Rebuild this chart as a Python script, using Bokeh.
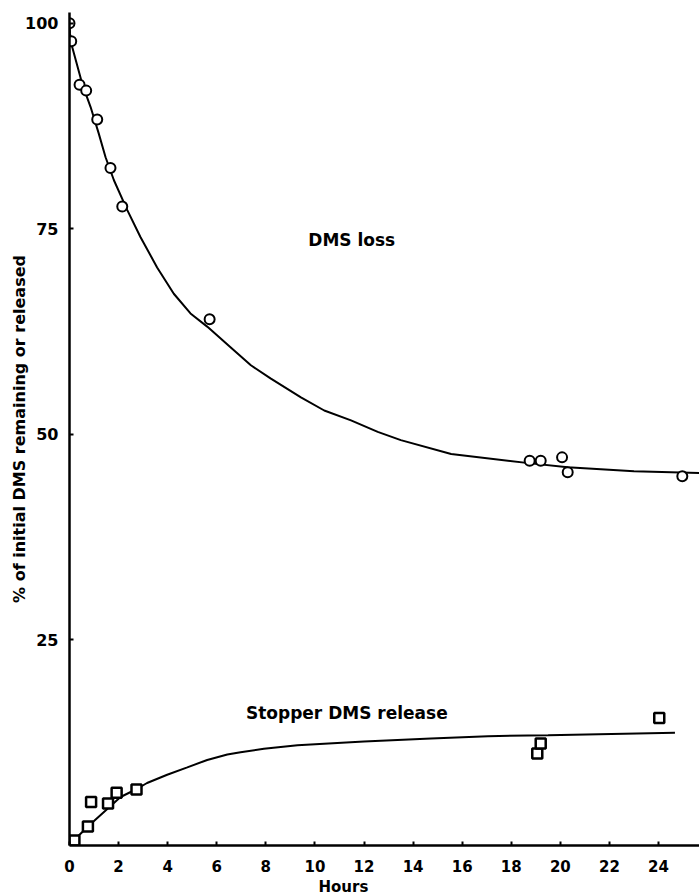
from bokeh.plotting import figure
from bokeh.models import Label, FixedTicker, Range1d, Title
from bokeh.embed import file_html
from bokeh.resources import INLINE

# DMS loss (circles)
loss_hours = [0.0, 0.07, 0.41, 0.68, 1.13, 1.67, 2.15, 5.71, 18.75, 19.2, 20.07, 20.3, 24.97]
loss_pct = [100.0, 97.8, 92.5, 91.8, 88.3, 82.4, 77.7, 64.0, 46.8, 46.8, 47.2, 45.4, 44.9]

# Stopper DMS release (squares)
rel_hours = [0.2, 0.75, 0.88, 1.57, 1.92, 2.73, 19.06, 19.2, 24.03]
rel_pct = [0.6, 2.3, 5.3, 5.1, 6.4, 6.8, 11.2, 12.4, 15.5]

# fitted curves as drawn in the figure
loss_fit_hours = [0.0, 0.02, 0.11, 0.52, 0.86, 1.19, 1.47, 1.81, 2.35, 2.89, 3.57, 4.25,
                  4.93, 5.61, 6.56, 7.39, 8.19, 9.43, 10.38, 11.47, 12.56, 13.5, 15.55,
                  18.7, 20.3, 23.0, 25.7]
loss_fit_pct = [100.0, 98.7, 97.1, 92.6, 89.8, 86.6, 83.7, 80.9, 77.3, 74.0, 70.3, 67.1,
                64.7, 63.1, 60.6, 58.4, 56.8, 54.5, 52.9, 51.7, 50.3, 49.3, 47.6,
                46.5, 46.0, 45.5, 45.3]

rel_fit_hours = [0.1, 0.75, 2.08, 2.76, 3.16, 3.98, 4.8, 5.61, 6.43, 6.97, 7.92, 9.29,
                 12.0, 14.73, 17.05, 19.5, 24.67]
rel_fit_pct = [0.4, 2.3, 5.9, 6.9, 7.6, 8.6, 9.5, 10.4, 11.07, 11.35, 11.76, 12.2,
               12.65, 13.0, 13.3, 13.4, 13.7]

x_ticks = [0, 2, 4, 6, 8, 10, 12, 14, 16, 18, 20, 22, 24]
y_ticks = [25, 50, 75, 100]

FONT = "DejaVu Sans"

p = figure(width=699, height=896, output_backend="svg", toolbar_location=None,
           x_range=Range1d(0, 25.67), y_range=Range1d(0, 101.3),
           min_border_left=69, min_border_right=0, min_border_top=12, min_border_bottom=51)
p.outline_line_color = None
p.xgrid.grid_line_color = None
p.ygrid.grid_line_color = None
p.background_fill_color = "white"
p.border_fill_color = "white"

for ax in (p.xaxis[0], p.yaxis[0]):
    ax.axis_line_width = 2.5
    ax.axis_line_color = "black"
    ax.major_tick_in = 4
    ax.major_tick_out = 0
    ax.major_tick_line_width = 2
    ax.minor_tick_line_color = None
    ax.major_label_text_font = FONT
    ax.major_label_text_font_style = "bold"
    ax.major_label_text_color = "black"

p.xaxis[0].ticker = FixedTicker(ticks=x_ticks)
p.yaxis[0].ticker = FixedTicker(ticks=y_ticks)
p.xaxis[0].major_label_text_font_size = "15px"
p.yaxis[0].major_label_text_font_size = "16px"
p.xaxis[0].major_label_standoff = 14
p.yaxis[0].major_label_standoff = 11

p.yaxis[0].axis_label = "% of initial DMS remaining or released"
p.yaxis[0].axis_label_text_font = FONT
p.yaxis[0].axis_label_text_font_style = "bold"
p.yaxis[0].axis_label_text_font_size = "16px"
p.yaxis[0].axis_label_text_color = "black"
p.yaxis[0].axis_label_standoff = -7

hours_title = Title(text="Hours", align="left", offset=249, standoff=2,
                    text_font=FONT, text_font_style="bold", text_font_size="15px",
                    text_color="black")
p.add_layout(hours_title, "below")

p.line(loss_fit_hours, loss_fit_pct, line_color="black", line_width=2)
p.line(rel_fit_hours, rel_fit_pct, line_color="black", line_width=2)

p.scatter(loss_hours, loss_pct, marker="circle", size=10, fill_color="white",
          line_color="black", line_width=2)
p.scatter(rel_hours, rel_pct, marker="square", size=10, fill_color="white",
          line_color="black", line_width=2.5)

p.add_layout(Label(x=11.5, y=73.6, text="DMS loss", text_font=FONT, text_font_style="bold",
                   text_font_size="17px", text_color="black",
                   text_align="center", text_baseline="middle"))
p.add_layout(Label(x=11.3, y=16.1, text="Stopper DMS release", text_font=FONT,
                   text_font_style="bold", text_font_size="17px", text_color="black",
                   text_align="center", text_baseline="middle"))

open("out.html", "w").write(file_html(p, INLINE))
